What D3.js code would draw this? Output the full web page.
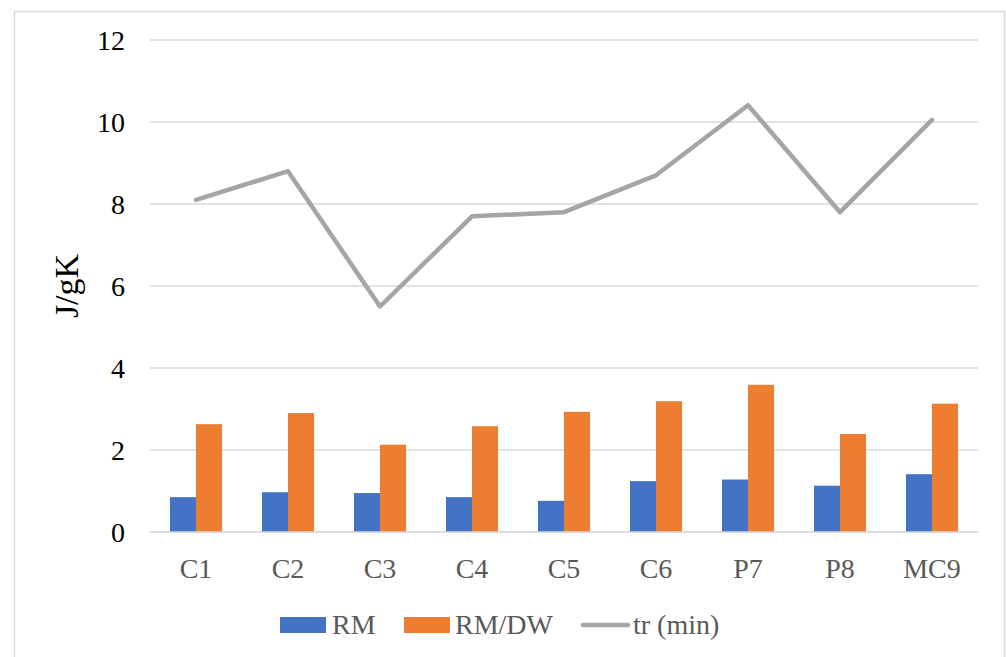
<!DOCTYPE html>
<html>
<head>
<meta charset="utf-8">
<script src="https://cdn.jsdelivr.net/npm/d3@7"></script>
<style>
  html, body { margin: 0; padding: 0; background: #fff; }
  svg { display: block; }
  svg text { font-family: "Liberation Serif", "Times New Roman", Times, "DejaVu Serif", serif; }
</style>
</head>
<body>
<svg id="chart" width="1006" height="657"></svg>
<script>
const categories = ["C1", "C2", "C3", "C4", "C5", "C6", "P7", "P8", "MC9"];
const rmValues = [0.85, 0.97, 0.95, 0.85, 0.76, 1.24, 1.28, 1.13, 1.41];
const rmdwValues = [2.63, 2.90, 2.13, 2.58, 2.93, 3.19, 3.59, 2.39, 3.13];
const trValues = [8.1, 8.8, 5.5, 7.7, 7.8, 8.7, 10.41, 7.8, 10.05];
const yTicks = [0, 2, 4, 6, 8, 10, 12];
const seriesNames = ["RM", "RM/DW", "tr (min)"];
const colors = ["#4472C4", "#ED7D31", "#A5A5A5"];

const svg = d3.select("#chart");

// outer border
svg.append("rect").attr("x", 14.5).attr("y", 11.5).attr("width", 990).attr("height", 660)
  .attr("fill", "none").attr("stroke", "#d9d9d9").attr("stroke-width", 1.5);

const x = d3.scaleBand().domain(categories).range([150, 978]);
const y = d3.scaleLinear().domain([0, 12]).range([532, 40]);

// gridlines
svg.append("g").selectAll("line").data(yTicks).join("line")
  .attr("x1", 150).attr("x2", 978)
  .attr("y1", d => y(d)).attr("y2", d => y(d))
  .attr("stroke", "#d9d9d9").attr("stroke-width", 1.5);

// y tick labels
svg.append("g").selectAll("text").data(yTicks).join("text")
  .attr("x", 125).attr("y", d => y(d)).attr("dy", "0.34em")
  .attr("text-anchor", "end")
  .attr("font-size", 28).attr("fill", "#000")
  .text(d => d);

// y title
svg.append("text")
  .attr("transform", `translate(78,${(y(0) + y(12)) / 2}) rotate(-90)`)
  .attr("text-anchor", "middle")
  .attr("font-size", 34).attr("fill", "#000")
  .text("J/gK");

const bw = x.bandwidth() * 0.283;
const sub = d3.scaleBand().domain([0, 1]).range([0, bw * 2]);

const barG = svg.append("g");
[rmValues, rmdwValues].forEach((vals, si) => {
  barG.append("g").selectAll("rect").data(vals).join("rect")
    .attr("x", (d, i) => x(categories[i]) + x.bandwidth() / 2 - bw + sub(si))
    .attr("y", d => y(d))
    .attr("width", sub.bandwidth())
    .attr("height", d => y(0) - y(d))
    .attr("fill", colors[si]);
});

// baseline on top
svg.append("line").attr("x1", 150).attr("x2", 978).attr("y1", y(0)).attr("y2", y(0))
  .attr("stroke", "#d9d9d9").attr("stroke-width", 1.5);

// line
const line = d3.line()
  .x((d, i) => x(categories[i]) + x.bandwidth() / 2)
  .y(d => y(d));
svg.append("path").datum(trValues)
  .attr("d", line)
  .attr("fill", "none").attr("stroke", colors[2]).attr("stroke-width", 4.5)
  .attr("stroke-linecap", "round").attr("stroke-linejoin", "round");

// x labels
svg.append("g").selectAll("text").data(categories).join("text")
  .attr("x", d => x(d) + x.bandwidth() / 2).attr("y", 578)
  .attr("text-anchor", "middle")
  .attr("font-size", 28).attr("fill", "#595959")
  .text(d => d);

// legend
const legend = svg.append("g");
const legendX = [280, 404, 581];
legend.append("rect").attr("x", legendX[0]).attr("y", 617).attr("width", 46).attr("height", 16).attr("fill", colors[0]);
legend.append("rect").attr("x", legendX[1]).attr("y", 617).attr("width", 46).attr("height", 16).attr("fill", colors[1]);
legend.append("line").attr("x1", legendX[2] + 2).attr("x2", legendX[2] + 47).attr("y1", 625).attr("y2", 625)
  .attr("stroke", colors[2]).attr("stroke-width", 4.5).attr("stroke-linecap", "round");
const textX = [332, 455, 633];
seriesNames.forEach((n, i) => {
  legend.append("text").attr("x", textX[i]).attr("y", 634)
    .attr("font-size", 28).attr("fill", "#595959")
    .text(n);
});
</script>
</body>
</html>
